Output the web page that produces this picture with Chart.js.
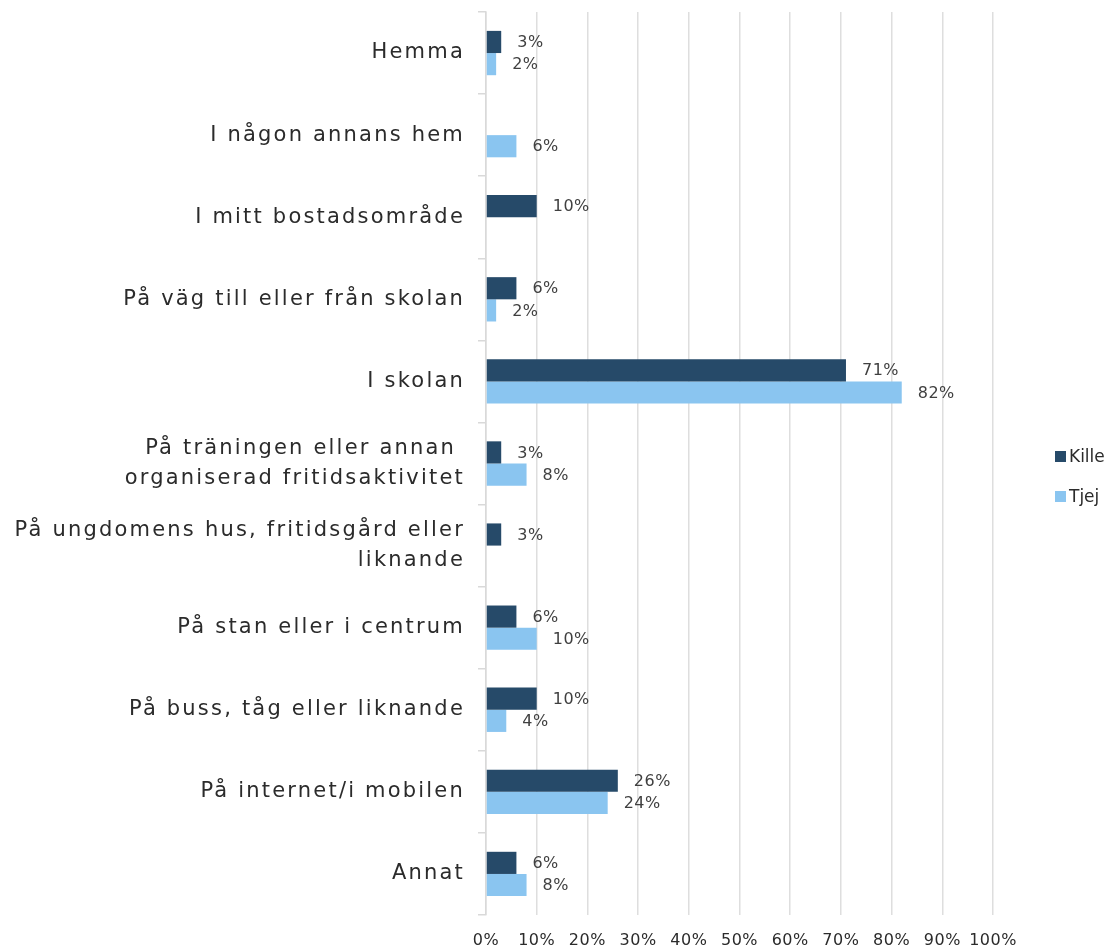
<!DOCTYPE html>
<html>
<head>
<meta charset="utf-8">
<script src="https://cdn.jsdelivr.net/npm/chart.js@4.4.0/dist/chart.umd.min.js"></script>
<style>
  html, body { margin: 0; padding: 0; background: #fff; }
</style>
</head>
<body>
<canvas id="myChart" width="1112" height="950"></canvas>
<script>
// answers per place, share of boys (Kille) and girls (Tjej)
const categories = [
  "Hemma",
  "I någon annans hem",
  "I mitt bostadsområde",
  "På väg till eller från skolan",
  "I skolan",
  ["På träningen eller annan ", "organiserad fritidsaktivitet"],
  ["På ungdomens hus, fritidsgård eller", "liknande"],
  "På stan eller i centrum",
  "På buss, tåg eller liknande",
  "På internet/i mobilen",
  "Annat"
];
const kille = [3, null, 10, 6, 71, 3, 3, 6, 10, 26, 6];
const tjej = [2, 6, null, 2, 82, 8, null, 10, 4, 24, 8];
const xTicks = [0, 10, 20, 30, 40, 50, 60, 70, 80, 90, 100];

const FONT = '"DejaVu Sans", sans-serif';
const TEXT = '#2b2b2b';
const COLORS = ['#264a69', '#8ac5f0'];

// a bit of tracking for all canvas text
const spacing = {
  id: 'spacing',
  beforeDraw(chart) {
    chart.ctx.letterSpacing = '0.5px';
  }
};

// percent labels next to the end of each bar
const valueLabels = {
  id: 'valueLabels',
  afterDatasetsDraw(chart) {
    const ctx = chart.ctx;
    ctx.save();
    ctx.font = '16px ' + FONT;
    ctx.letterSpacing = '0.5px';
    ctx.fillStyle = '#404040';
    ctx.textAlign = 'left';
    ctx.textBaseline = 'middle';
    chart.data.datasets.forEach((ds, i) => {
      chart.getDatasetMeta(i).data.forEach((bar, j) => {
        const v = ds.data[j];
        if (v == null) return;
        ctx.fillText(v + '%', bar.x + 16, bar.y + 1);
      });
    });
    ctx.restore();
  }
};

// legend on the right, small squares with the series names
const sideLegend = {
  id: 'sideLegend',
  afterDraw(chart) {
    const ctx = chart.ctx;
    const area = chart.chartArea;
    const x = area.right + 62;
    const mid = (area.top + area.bottom) / 2 + 13;
    ctx.save();
    ctx.font = '17px ' + FONT;
    ctx.letterSpacing = '0px';
    ctx.textAlign = 'left';
    ctx.textBaseline = 'middle';
    chart.data.datasets.forEach((ds, i) => {
      const y = mid + (i - 0.5) * 40;
      ctx.fillStyle = COLORS[i];
      ctx.fillRect(x, y - 5.5, 11, 11);
      ctx.fillStyle = TEXT;
      ctx.fillText(ds.label, x + 14, y + 1);
    });
    ctx.restore();
  }
};

const ctx = document.getElementById('myChart').getContext('2d');
const chart = new Chart(ctx, {
  type: 'bar',
  data: {
    labels: categories,
    datasets: [
      { label: 'Kille', data: kille, backgroundColor: COLORS[0], borderWidth: 0 },
      { label: 'Tjej', data: tjej, backgroundColor: COLORS[1], borderWidth: 0 }
    ]
  },
  options: {
    indexAxis: 'y',
    responsive: false,
    animation: false,
    layout: { padding: { top: 12, right: 119, bottom: 0, left: 0 } },
    datasets: { bar: { categoryPercentage: 0.54, barPercentage: 1.0 } },
    plugins: {
      legend: { display: false },
      tooltip: { enabled: false }
    },
    scales: {
      x: {
        min: 0,
        max: 100,
        afterBuildTicks(scale) {
          scale.ticks = xTicks.map(v => ({ value: v }));
        },
        afterFit(scale) {
          scale.height = 35;
        },
        grid: { color: '#dedede', lineWidth: 1.5, drawTicks: false },
        border: { display: false },
        ticks: {
          padding: 16,
          minRotation: 0,
          maxRotation: 0,
          autoSkip: false,
          color: TEXT,
          font: { family: FONT, size: 16 },
          callback: v => v + '%'
        }
      },
      y: {
        afterFit(scale) {
          scale.width = 486;
          scale.paddingTop = 0;
          scale.paddingBottom = 0;
        },
        grid: { drawOnChartArea: false, color: '#d9d9d9', tickLength: 8, lineWidth: 1.5 },
        border: { color: '#d9d9d9', width: 1.5 },
        ticks: {
          padding: 13,
          color: TEXT,
          font: { family: FONT, size: 21, lineHeight: 1.43 }
        }
      }
    }
  },
  plugins: [spacing, valueLabels, sideLegend]
});

// category names are set wide, like the original typeface
const yScale = chart.scales.y;
const drawYLabels = yScale.drawLabels.bind(yScale);
yScale.drawLabels = function (area) {
  this.ctx.save();
  this.ctx.letterSpacing = '2.2px';
  drawYLabels(area);
  this.ctx.restore();
};
chart.draw();
</script>
</body>
</html>
